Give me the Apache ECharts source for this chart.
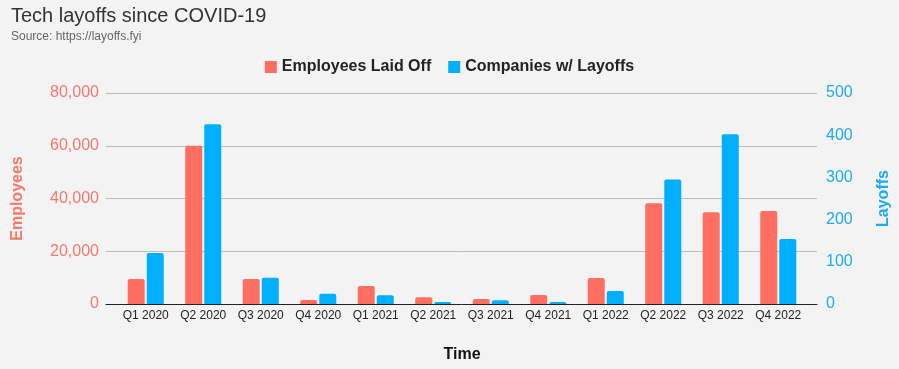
<!DOCTYPE html>
<html>
<head>
<meta charset="utf-8">
<script src="https://cdn.jsdelivr.net/npm/echarts@6/dist/echarts.min.js"></script>
<style>
html,body{margin:0;padding:0;background:#f3f3f3;}
#chart{width:899px;height:369px;}
</style>
</head>
<body>
<div id="chart"></div>
<script>
const categories = ['Q1 2020','Q2 2020','Q3 2020','Q4 2020','Q1 2021','Q2 2021','Q3 2021','Q4 2021','Q1 2022','Q2 2022','Q3 2022','Q4 2022'];
const employeesLaidOff = [9500, 60000, 9500, 1500, 6800, 2600, 1900, 3400, 9900, 38200, 34800, 35300];
const companiesWithLayoffs = [121, 426, 62, 24, 21, 5, 9, 5, 31, 295, 402, 154];
const leftTicks = {min: 0, max: 80000, interval: 20000};
const rightTicks = {min: 0, max: 500, interval: 100};

const RED = '#ff6f61';
const BLUE = '#00b0ff';
const RED_TXT = '#f47a6d';
const BLUE_TXT = '#1eaaf0';
const FONT = 'Liberation Sans, Arial, sans-serif';

const chart = echarts.init(document.getElementById('chart'));
chart.setOption({
  backgroundColor: '#f3f3f3',
  animation: false,
  textStyle: {fontFamily: FONT},
  title: {
    text: 'Tech layoffs since COVID-19',
    subtext: 'Source: https://layoffs.fyi',
    left: 6, top: 1,
    itemGap: 5,
    textStyle: {fontSize: 20, fontWeight: 'normal', color: '#333', fontFamily: FONT},
    subtextStyle: {fontSize: 12, color: '#666', fontFamily: FONT}
  },
  legend: {
    top: 54, left: 'center',
    itemWidth: 12, itemHeight: 12, itemGap: 17,
    icon: 'rect',
    textStyle: {fontSize: 16, fontWeight: 'bold', color: '#222', fontFamily: FONT},
    data: ['Employees Laid Off', 'Companies w/ Layoffs']
  },
  grid: [
    {left: 117, right: 92, top: 93, bottom: 65, outerBoundsMode: 'none', containLabel: false},
    {left: 106, right: 82, top: 93, bottom: 65, outerBoundsMode: 'none', containLabel: false}
  ],
  xAxis: [
    {
      type: 'category', gridIndex: 0, data: categories,
      axisLine: {show: false}, axisTick: {show: false},
      axisLabel: {fontSize: 12, color: '#222', margin: 6, interval: 0},
      name: 'Time', nameLocation: 'middle', nameGap: 43,
      nameTextStyle: {fontSize: 16, fontWeight: 'bold', color: '#111'}
    },
    {
      type: 'category', gridIndex: 1, data: categories,
      axisLine: {show: true, lineStyle: {color: '#222', width: 1}},
      axisTick: {show: false}, axisLabel: {show: false}
    }
  ],
  yAxis: [
    {type: 'value', gridIndex: 0, min: leftTicks.min, max: leftTicks.max, interval: leftTicks.interval, show: false, splitLine: {show: false}},
    {type: 'value', gridIndex: 0, min: rightTicks.min, max: rightTicks.max, interval: rightTicks.interval, show: false, splitLine: {show: false}, position: 'right'},
    {
      type: 'value', gridIndex: 1, position: 'left',
      min: leftTicks.min, max: leftTicks.max, interval: leftTicks.interval,
      axisLine: {show: false}, axisTick: {show: false},
      axisLabel: {fontSize: 16, color: RED_TXT, margin: 7, formatter: v => v.toLocaleString('en-US')},
      splitLine: {show: true, lineStyle: {color: '#bdbdbd', width: 1}},
      name: 'Employees', nameLocation: 'middle', nameGap: 80, nameRotate: 90,
      nameTextStyle: {fontSize: 16, fontWeight: 'bold', color: RED_TXT}
    },
    {
      type: 'value', gridIndex: 1, position: 'right',
      min: rightTicks.min, max: rightTicks.max, interval: rightTicks.interval,
      axisLine: {show: false}, axisTick: {show: false},
      axisLabel: {fontSize: 16, color: BLUE_TXT, margin: 9},
      splitLine: {show: false},
      name: 'Layoffs', nameLocation: 'middle', nameGap: 59, nameRotate: 90,
      nameTextStyle: {fontSize: 16, fontWeight: 'bold', color: BLUE_TXT}
    }
  ],
  series: [
    {
      name: 'Employees Laid Off', type: 'bar', xAxisIndex: 0, yAxisIndex: 0,
      data: employeesLaidOff, barWidth: 17, barGap: '12%',
      itemStyle: {color: RED, borderRadius: [2, 2, 0, 0]}
    },
    {
      name: 'Companies w/ Layoffs', type: 'bar', xAxisIndex: 0, yAxisIndex: 1,
      data: companiesWithLayoffs, barWidth: 17, barGap: '12%',
      itemStyle: {color: BLUE, borderRadius: [2, 2, 0, 0]}
    }
  ]
});
</script>
</body>
</html>
